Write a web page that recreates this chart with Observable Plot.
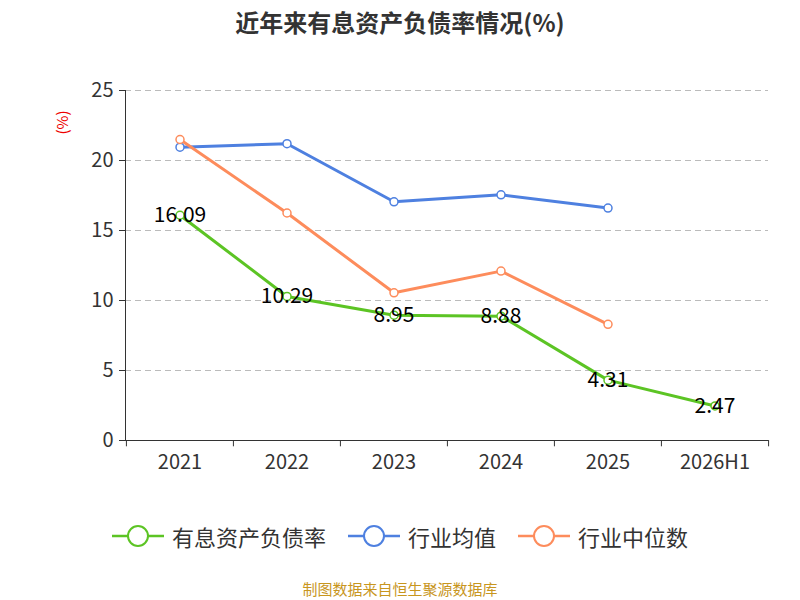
<!DOCTYPE html><html><head><meta charset="utf-8">
<script src="https://cdn.jsdelivr.net/npm/d3@7"></script>
<script src="https://cdn.jsdelivr.net/npm/@observablehq/plot@0.6"></script>
<style>
body{margin:0;width:800px;height:600px;background:#fff;font-family:"Noto Sans CJK SC","Noto Sans",sans-serif;position:relative;overflow:hidden}
#title{position:absolute;top:4px;left:0;width:800px;text-align:center;font-size:24px;font-weight:bold;color:#333}
#chart{position:absolute;top:50px;left:0}
#legend{position:absolute;top:520px;left:0;width:800px;display:flex;justify-content:center;gap:22px;font-size:22px;color:#333}
.li{display:flex;align-items:center;gap:8px}
#cap{position:absolute;top:578px;width:800px;text-align:center;font-size:15px;color:#c8961e}
#unit{position:absolute;left:50px;top:112px;transform:rotate(-90deg);color:#e00;font-size:15px}
</style></head><body>
<div id="title">近年来有息资产负债率情况(%)</div>
<div id="chart"></div>
<div id="unit">(%)</div>
<div id="legend"></div>
<div id="cap">制图数据来自恒生聚源数据库</div>
<script>
const categories=["2021","2022","2023","2024","2025","2026H1"];
const debtRatio=[16.09,10.29,8.95,8.88,4.31,2.47];
const industryAvg=[20.95,21.2,17.05,17.55,16.6];
const industryMedian=[21.5,16.25,10.55,12.1,8.3];
const names=["有息资产负债率","行业均值","行业中位数"];
const colors=["#5cc424","#4e80e0","#fd8c5c"];
const series=[debtRatio,industryAvg,industryMedian];
const data=[];
series.forEach((s,i)=>s.forEach((v,j)=>data.push({cat:categories[j],v,name:names[i]})));
const bw=(800-125-32)/6;
const plot=Plot.plot({
  width:800,height:440,marginTop:40,marginBottom:50,marginLeft:125,marginRight:32,
  style:{fontSize:"20px",fontFamily:"Noto Sans CJK SC, Noto Sans, sans-serif",color:"#333"},
  x:{type:"band",domain:categories,padding:0,label:null},
  y:{domain:[0,25],ticks:[0,5,10,15,20,25],label:null},
  color:{domain:names,range:colors},
  marks:[
    Plot.gridY([5,10,15,20,25],{stroke:"#bbb",strokeOpacity:1,strokeDasharray:"6,4"}),
    Plot.axisY({ticks:[0,5,10,15,20,25],tickSize:6,tickPadding:6,label:null,stroke:"#333"}),
    Plot.axisX({tickSize:0,tickPadding:14,label:null}),
    Plot.ruleY([0],{stroke:"#333"}),
    Plot.frame({anchor:"left",stroke:"#333"}),
    Plot.ruleX(categories,{x:d=>d,y1:0,y2:-0.45,dx:-bw/2,stroke:"#333",clip:false}),
    Plot.ruleX(["2026H1"],{x:d=>d,y1:0,y2:-0.45,dx:bw/2,stroke:"#333",clip:false}),
    Plot.line(data,{x:"cat",y:"v",z:"name",stroke:"name",strokeWidth:3}),
    Plot.dot(data,{x:"cat",y:"v",stroke:"name",fill:"white",r:4,strokeWidth:1.5}),
    Plot.text(debtRatio.map((v,j)=>({cat:categories[j],v})),{x:"cat",y:"v",text:d=>d.v.toFixed(2),fontSize:21,fill:"#000"})
  ]
});
document.getElementById("chart").append(plot);
const lg=document.getElementById("legend");
names.forEach((n,i)=>{lg.insertAdjacentHTML("beforeend",`<div class="li"><svg width="52" height="26"><line x1="0" x2="52" y1="13" y2="13" stroke="${colors[i]}" stroke-width="2.5"/><circle cx="26" cy="13" r="10" fill="white" stroke="${colors[i]}" stroke-width="2"/></svg><span>${n}</span></div>`)});
</script></body></html>
